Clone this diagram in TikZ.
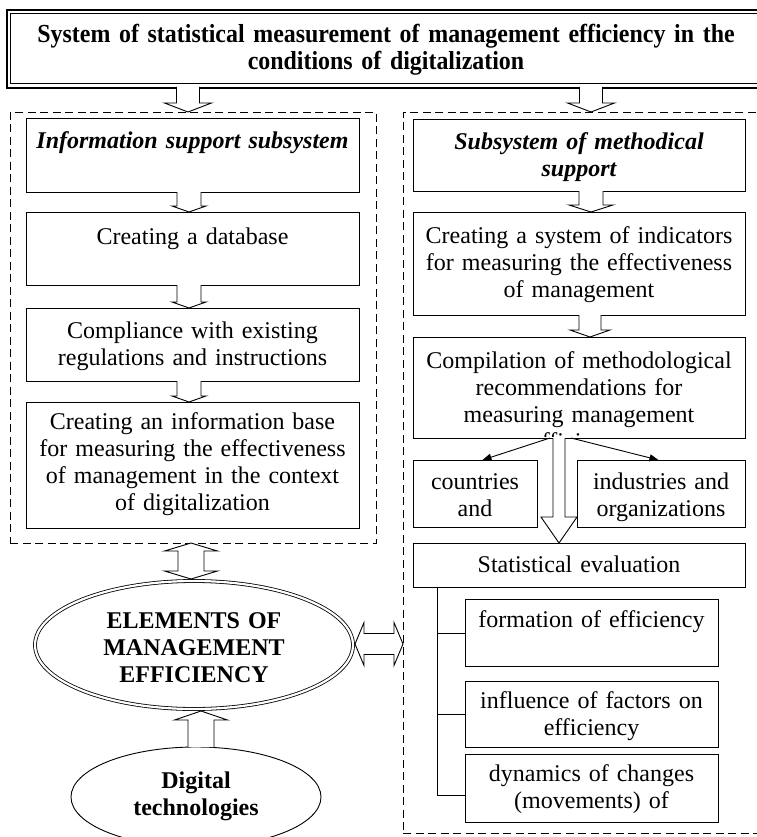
\documentclass[tikz,border=0pt]{standalone}
\usepackage{fontspec}
\setmainfont{Liberation Serif}
\newfontfamily\titlefont[FakeStretch=0.92]{Liberation Serif}
\usetikzlibrary{shapes.geometric,arrows.meta}
\tikzset{
  bx/.style={draw, line width=0.9pt, inner sep=0pt},
  dbox/.style={draw, line width=0.9pt, dash pattern=on 8pt off 4.5pt, inner sep=0pt},
  barrow/.style={draw, fill=white, line width=0.9pt, line join=miter},
  tarrow/.style={-{Triangle[length=9pt,width=7pt]}, line width=0.9pt},
  txt/.style={anchor=base, text width=#1, align=center, inner sep=0pt, font=\fontsize{24pt}{27pt}\selectfont},
  txt/.default=330pt
}
\newcommand\bxat[6][bx]{\node[#1, anchor=north west, minimum width={(#5)-(#3)}, minimum height={(#6)-(#4)}] (#2) at (#3,#4) {};}
\newcommand\darr[6]{\draw[barrow] ({#1-#4},#2) -- ({#1-#4},{#3-(#6)}) -- ({#1-#5},{#3-(#6)}) -- (#1,#3) -- ({#1+#5},{#3-(#6)}) -- ({#1+#4},{#3-(#6)}) -- ({#1+#4},#2);}
\newcommand\dvarr[6]{\draw[barrow] (#1,#2) -- ({#1+#5},{#2+#6}) -- ({#1+#4},{#2+#6}) -- ({#1+#4},{#3-#6}) -- ({#1+#5},{#3-#6}) -- (#1,#3) -- ({#1-#5},{#3-#6}) -- ({#1-#4},{#3-#6}) -- ({#1-#4},{#2+#6}) -- ({#1-#5},{#2+#6}) -- cycle;}
\newcommand\dharr[6]{\draw[barrow] (#2,#1) -- ({#2+#6},{#1-#5}) -- ({#2+#6},{#1-#4}) -- ({#3-#6},{#1-#4}) -- ({#3-#6},{#1-#5}) -- (#3,#1) -- ({#3-#6},{#1+#5}) -- ({#3-#6},{#1+#4}) -- ({#2+#6},{#1+#4}) -- ({#2+#6},{#1+#5}) -- cycle;}
\begin{document}
\begin{tikzpicture}[x=1pt, y=-1pt]
\useasboundingbox (0,0) rectangle (756,837);
% title
\node[draw, line width=2.4pt, anchor=north west, minimum width=770pt, minimum height=78pt, inner sep=0pt] (title) at (6,9) {};
\node[draw, line width=0.9pt, anchor=north west, minimum width=762pt, minimum height=70pt, inner sep=0pt] (titlein) at (10,13) {};
\node[anchor=base, text width=740pt, align=center, inner sep=0pt, font=\titlefont\bfseries\fontsize{26pt}{27pt}\selectfont] (titletxt) at (386,43) {System of statistical measurement of management efficiency in the\\conditions of digitalization};
% dashed containers
\bxat[dbox]{left}{10}{112}{376}{543}
\bxat[dbox]{right}{403}{112}{775}{833}
% left column
\bxat{b1}{26}{118}{359}{192}
\bxat{b2}{26}{212}{359}{285}
\bxat{b3}{26}{308}{359}{381}
\bxat{b4}{26}{402}{359}{528}
\node[txt] (t1) at (192.5,149) {\bfseries\itshape Information support subsystem};
\node[txt] (t2) at (192.5,244) {Creating a database};
\node[txt] (t3) at (192.5,338) {Compliance with existing\\regulations and instructions};
\node[txt] (t4) at (192.5,429) {Creating an information base\\for measuring the effectiveness\\of management in the context\\of digitalization};
% right column
\bxat{r1}{413}{119}{745}{191}
\bxat{r2}{413}{212}{745}{315}
\bxat{r3}{413}{337}{745}{438}
\bxat{ctry}{413}{460}{537}{527}
\bxat{ind}{577}{460}{745}{527}
\bxat{stat}{413}{543}{745}{587}
\bxat{f1}{465}{599}{718}{666}
\bxat{f2}{465}{681}{718}{747}
\bxat{f3}{465}{754}{718}{822}
\node[txt] (tr1) at (579,150) {\bfseries\itshape Subsystem of methodical\\support};
\node[txt] (tr2) at (579,243) {Creating a system of indicators\\for measuring the effectiveness\\of management};
\begin{scope}
\clip (413,337) rectangle (745,436.5);
\node[txt] (tr3) at (579,368) {Compilation of methodological\\recommendations for\\measuring management\\efficiency};
\end{scope}
\node[txt=124pt] (tc) at (475,489) {countries\\and};
\node[txt=168pt] (ti) at (661,489) {industries and\\organizations};
\node[txt] (ts) at (579,572) {Statistical evaluation};
\node[txt=253pt] (tf1) at (591.5,627) {formation of efficiency};
\node[txt=253pt] (tf2) at (591.5,708) {influence of factors on\\efficiency};
\node[txt=253pt] (tf3) at (591.5,781) {dynamics of changes\\(movements) of};
% tree
\coordinate (trunk) at (437,587);
\draw[line width=0.9pt] (trunk) |- (f1.west);
\draw[line width=0.9pt] (trunk) |- (f2.west);
\draw[line width=0.9pt] (trunk) |- ([yshift=-7pt]f3.west);
% ellipses
\node[ellipse, draw, double, double distance=2.2pt, line width=0.8pt, minimum width=318pt, minimum height=128pt, inner sep=0pt] (el) at (194,645) {};
\node[txt=300pt, font=\bfseries\fontsize{24pt}{27pt}\selectfont] (elt) at (194,628) {ELEMENTS OF\\MANAGEMENT\\EFFICIENCY};
\node[ellipse, draw, line width=0.9pt, minimum width=250pt, minimum height=100pt, inner sep=0pt] (dig) at (196,797) {};
\node[txt=230pt, font=\bfseries\fontsize{24pt}{27pt}\selectfont] (digt) at (196,788) {Digital\\technologies};
% block arrows
\darr{188}{87}{112}{11.5}{23.5}{9}
\darr{591}{87}{112}{11.5}{23.5}{9}
\darr{189}{192}{212}{12}{17}{6}
\darr{189}{285}{308}{12}{17}{6}
\darr{189}{381}{402}{12}{17}{6}
\darr{591}{191}{212}{12}{22}{7}
\darr{590}{315}{337}{11}{20}{7}
\darr{559}{438}{543}{6}{18}{26}
\darr{201}{747}{711}{13}{26.5}{-9}
\dvarr{191}{543}{579}{13}{26.5}{8}
\dharr{644}{355}{403}{10.5}{21.5}{9}
% thin arrows
\coordinate (r3l) at (550,438);
\coordinate (r3r) at (571,438);
\draw[tarrow] (r3l) -- ([xshift=7pt]ctry.north);
\draw[tarrow] (r3r) -- ([xshift=-3pt]ind.north);
\end{tikzpicture}
\end{document}
